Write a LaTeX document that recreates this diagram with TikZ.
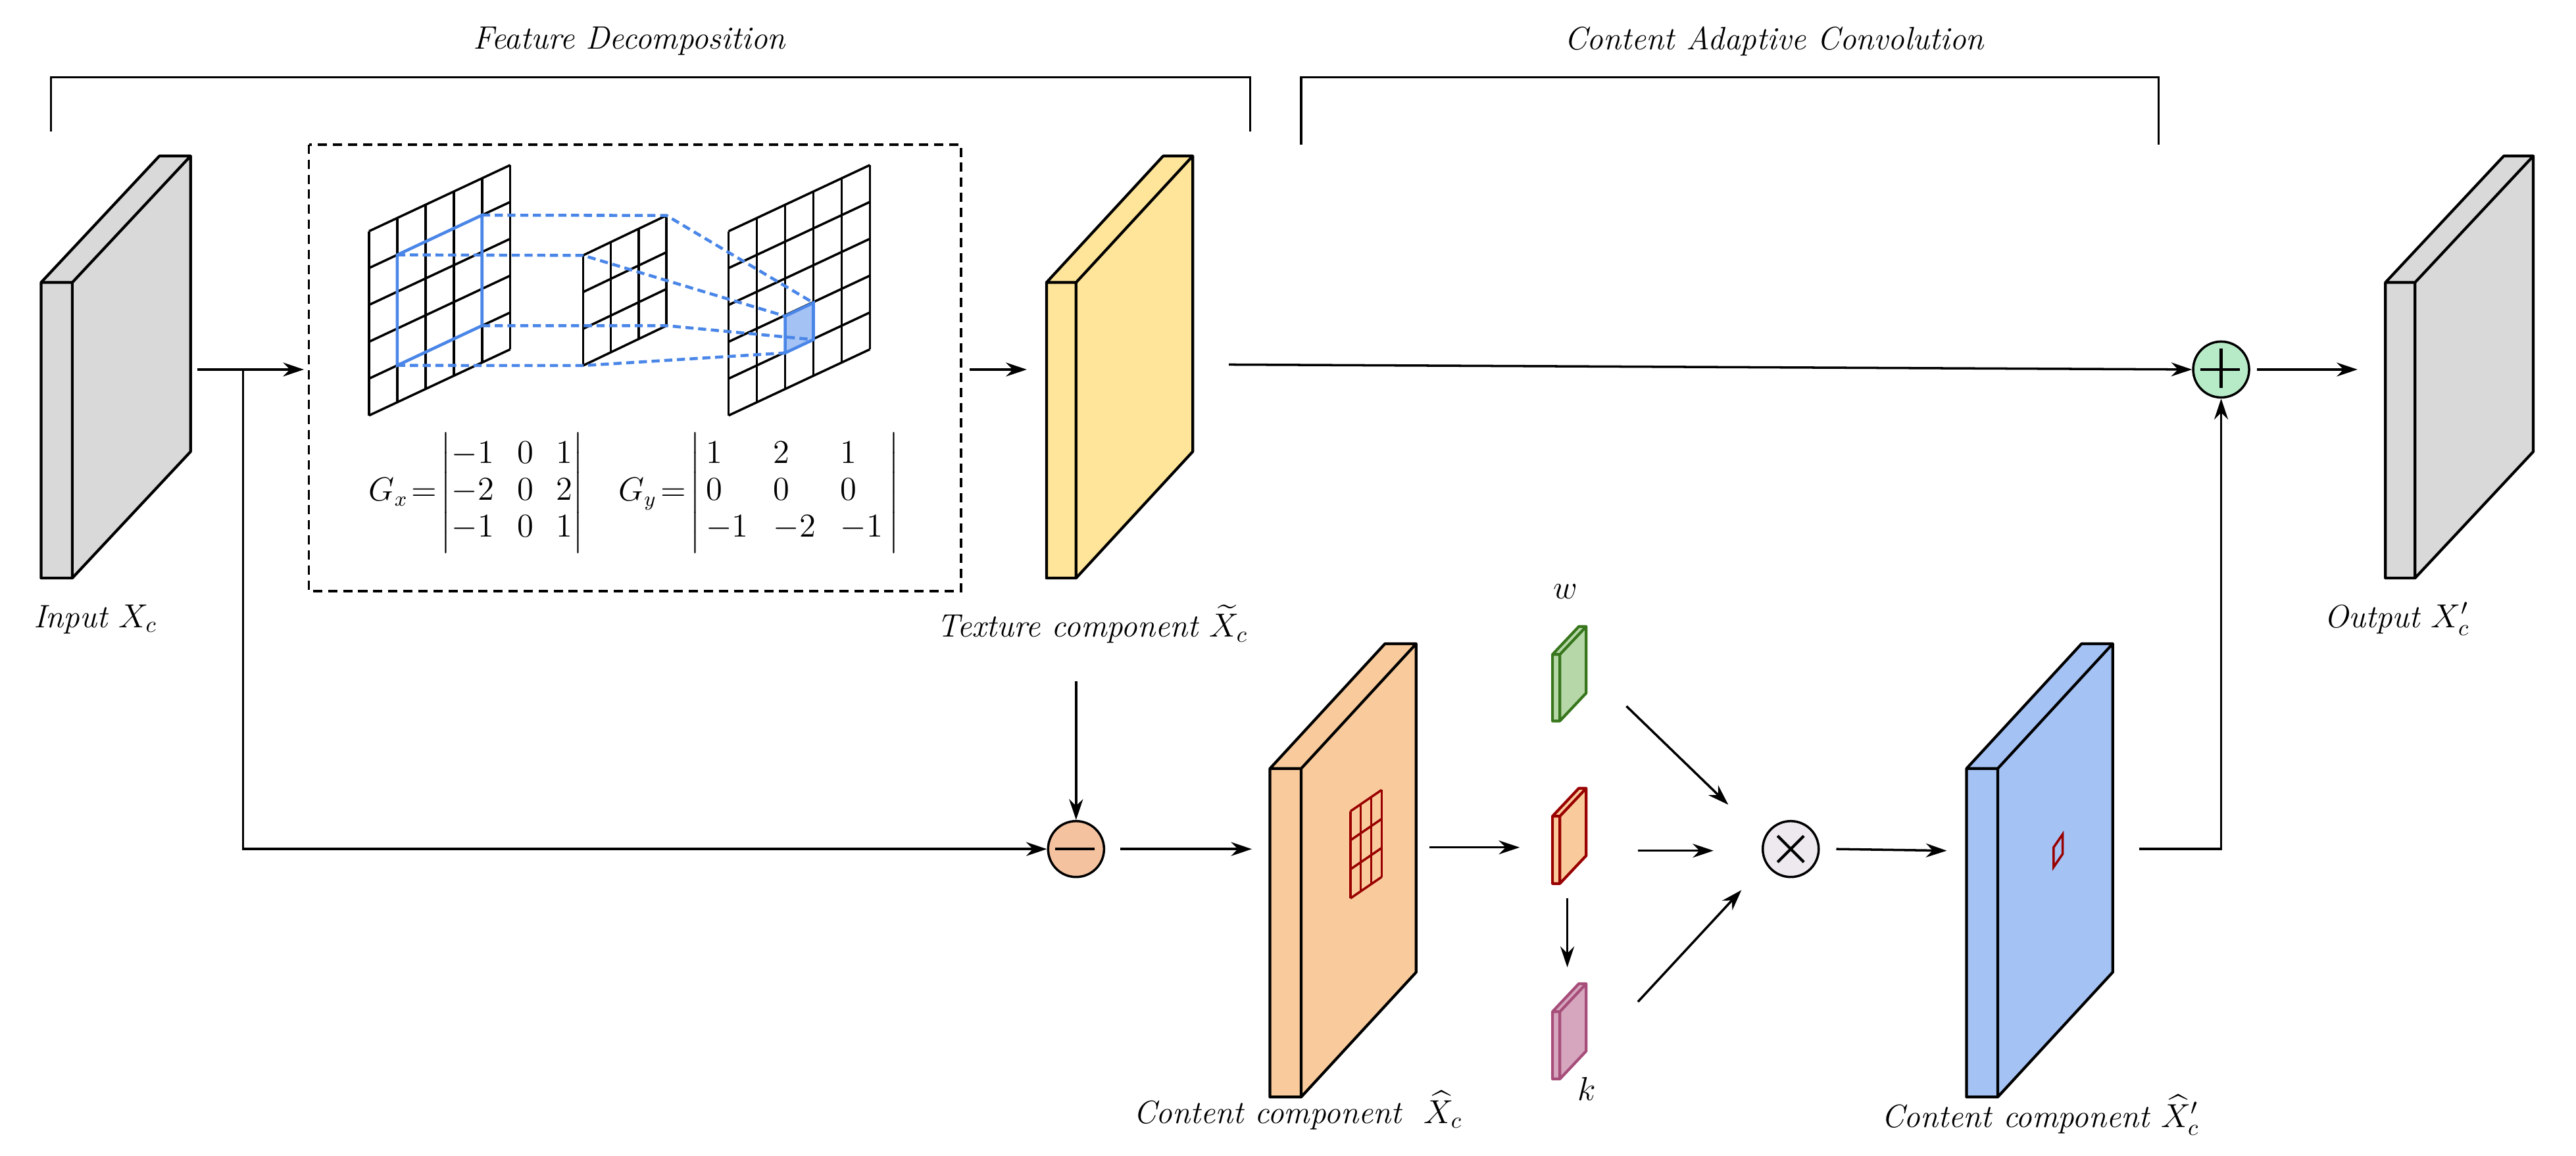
\documentclass[tikz,border=0pt]{standalone}
\usepackage{amsmath}
\usetikzlibrary{arrows.meta}
\definecolor{cgrey}{HTML}{D9D9D9}
\definecolor{cyel}{HTML}{FFE599}
\definecolor{cor}{HTML}{F9CB9C}
\definecolor{cblue}{HTML}{A4C2F4}
\definecolor{cgreen}{HTML}{B6D7A8}
\definecolor{cgreenb}{HTML}{38761D}
\definecolor{cred}{HTML}{990000}
\definecolor{cpink}{HTML}{D5A6BD}
\definecolor{cpinkb}{HTML}{A64D79}
\definecolor{cdash}{HTML}{4A86E8}
\definecolor{cplus}{HTML}{B7EBC7}
\definecolor{cminus}{HTML}{F4C29F}
\definecolor{ctimes}{HTML}{EDE9EF}
\newcommand\myslab[8]{% x1 y1 x2 y2 dx dy fill draw
  \filldraw[fill=#7,draw=#8,line width=1.2pt,line join=round]
    (#1,#2) rectangle (#3,#4)
    (#3,#2) -- ++(#5,#6) -- ++(0,#4-#2) -- (#3,#4) -- cycle
    (#1,#2) -- ++(#5,#6) -- ++(#3-#1,0) -- (#3,#2) -- cycle;}
\begin{document}
\begin{tikzpicture}[x=0.02497cm,y=-0.02497cm,
  arr/.style={-{Stealth[length=9pt,width=6pt]},line width=1pt},
  lbl/.style={font=\fontsize{14}{17}\selectfont\itshape,inner sep=0pt},
  op/.style={circle,draw,line width=1pt,minimum size=0.85cm,inner sep=0pt},
  grid/.style={line width=1pt},
  bd/.style={cdash,line width=1.3pt,dash pattern=on 3.5pt off 2pt}]
\useasboundingbox (0,0) rectangle (1568,703.6);
% titles and brackets
\node[lbl] (t1) at (383,25) {Feature Decomposition};
\node[lbl] (t2) at (1080,25) {Content Adaptive Convolution};
\draw[line width=0.9pt] (31,80) -- (31,47) -- (761,47) -- (761,80);
\draw[line width=0.9pt] (792,88) -- (792,47) -- (1314,47) -- (1314,88);
% slabs
\myslab{25}{172}{44}{352}{72}{-77}{cgrey}{black}
\myslab{637}{172}{655}{352}{71}{-77}{cyel}{black}
\myslab{1452}{172}{1470}{352}{72}{-77}{cgrey}{black}
\myslab{773}{468}{792}{668}{70}{-76}{cor}{black}
\myslab{1197}{468}{1216}{668}{70}{-76}{cblue}{black}
\myslab{945}{398.5}{949.5}{439}{16}{-17}{cgreen}{cgreenb}
\myslab{945}{497}{949.5}{538}{16}{-17}{cor}{cred}
\myslab{945}{616}{949.5}{657}{16}{-17}{cpink}{cpinkb}
% red grid on orange slab
\foreach \i in {0,...,3}{
  \draw[cred,line width=1pt] (822+\i*6.33,547-\i*4.33) -- ++(0,-53);
  \draw[cred,line width=1pt] (822,547-\i*17.67) -- ++(19,-13);}
\draw[cred,line width=1pt] (1250,528) -- (1250,516) -- (1255.5,508) -- (1255.5,520) -- cycle;
% labels
\node[lbl] (lin) at (58,377) {Input $X_c$};
\node[lbl] (ltex) at (665,380) {Texture component $\widetilde{X}_c$};
\node[lbl] (lout) at (1459,377) {Output $X'_c$};
\node[lbl] (lcon) at (790,676) {Content component\ \ $\widehat{X}_c$};
\node[lbl] (lcon2) at (1242,679) {Content component $\widehat{X}'_c$};
\node[lbl] (lw) at (953,360) {$w$};
\node[lbl] (lk) at (966,663) {$k$};
% dashed box
\draw[line width=1pt,dash pattern=on 4pt off 2.5pt] (188,88) rectangle (585,360);
% grids
\foreach \i in {0,...,5}{
  \draw[grid] (224.6+\i*17.2,253-\i*8.06) -- ++(0,-112.2);
  \draw[grid] (224.6,253-\i*22.44) -- ++(86,-40.3);
  \draw[grid] (443.5+\i*17.2,253-\i*8.06) -- ++(0,-112.2);
  \draw[grid] (443.5,253-\i*22.44) -- ++(86,-40.3);}
\foreach \i in {0,...,3}{
  \draw[grid] (354.9+\i*16.93,222.6-\i*8.1) -- ++(0,-67.1);
  \draw[grid] (354.9,222.6-\i*22.37) -- ++(50.8,-24.3);}
% blue receptive field
\coordinate (a1) at (241.8,222.5);
\coordinate (a2) at (241.8,155.2);
\coordinate (a3) at (293.4,131.0);
\coordinate (a4) at (293.4,198.3);
\fill[cblue] (477.9,214.9) -- (495.1,206.8) -- (495.1,184.4) -- (477.9,192.5) -- cycle;
\draw[cdash,line width=1.3pt] (a1) -- (a2) -- (a3) -- (a4) -- cycle;
\draw[cdash,line width=1.3pt] (477.9,214.9) -- (477.9,192.5) -- (495.1,184.4) -- (495.1,206.8) -- cycle;
\draw[bd] (a2) -- (354.9,155.5) -- (477.9,192.5);
\draw[bd] (a3) -- (405.7,131.2) -- (495.1,184.4);
\draw[bd] (a1) -- (354.9,222.6) -- (477.9,214.9);
\draw[bd] (a4) -- (405.7,198.3) -- (495.1,206.8);
% matrices
\node[inner sep=0pt,font=\fontsize{13.5}{16}\selectfont] (gx) at (290,300)
  {$G_x\!=\!\begin{vmatrix}-1&0&1\\-2&0&2\\-1&0&1\end{vmatrix}$};
\node[inner sep=0pt,font=\fontsize{13.5}{16}\selectfont] (gy) at (462,300)
  {$G_y\!=\!\left|\begin{array}{@{\,}l@{\hspace{0.8em}}l@{\hspace{0.8em}}l@{\,}}1&2&1\\0&0&0\\-1&-2&-1\end{array}\right|$};
% operators
\node[op,fill=cminus] (minus) at (655,517) {};
\draw[line width=1.2pt] (minus.west)++(5,0) -- ++(24,0);
\node[op,fill=cplus] (plus) at (1352,225) {};
\draw[line width=1.2pt] (plus.west)++(5,0) -- ++(24,0) (plus.north)++(0,5) -- ++(0,24);
\node[op,fill=ctimes] (times) at (1090,517) {};
\draw[line width=1.2pt] (times.center)++(-8,-8) -- ++(16,16) (times.center)++(-8,8) -- ++(16,-16);
% connectors
\coordinate (s0) at (120,225);
\coordinate (br) at (148,225);
\draw[arr] (s0) -- (185,225);
\draw[arr] (br) -- (148,517) -- (minus.west);
\draw[arr] (590,225) -- (625,225);
\draw[arr] (748,222) -- (plus.west);
\draw[arr] (plus.east) ++(4,0) -- (1435,225);
\draw[arr] (655,415) -- (minus.north);
\draw[arr] (minus.east) ++(9,0) -- (762,517);
\draw[arr] (870,516) -- (925,516);
\draw[arr] (954,547) -- (954,589);
\draw[arr] (990,430) -- (1052,490);
\draw[arr] (997,518) -- (1043,518);
\draw[arr] (997,610) -- (1060,542);
\draw[arr] (times.east) ++(10,0) -- (1185,518);
\draw[arr] (1302,517) -- (1352,517) -- (plus.south);
\end{tikzpicture}
\end{document}
